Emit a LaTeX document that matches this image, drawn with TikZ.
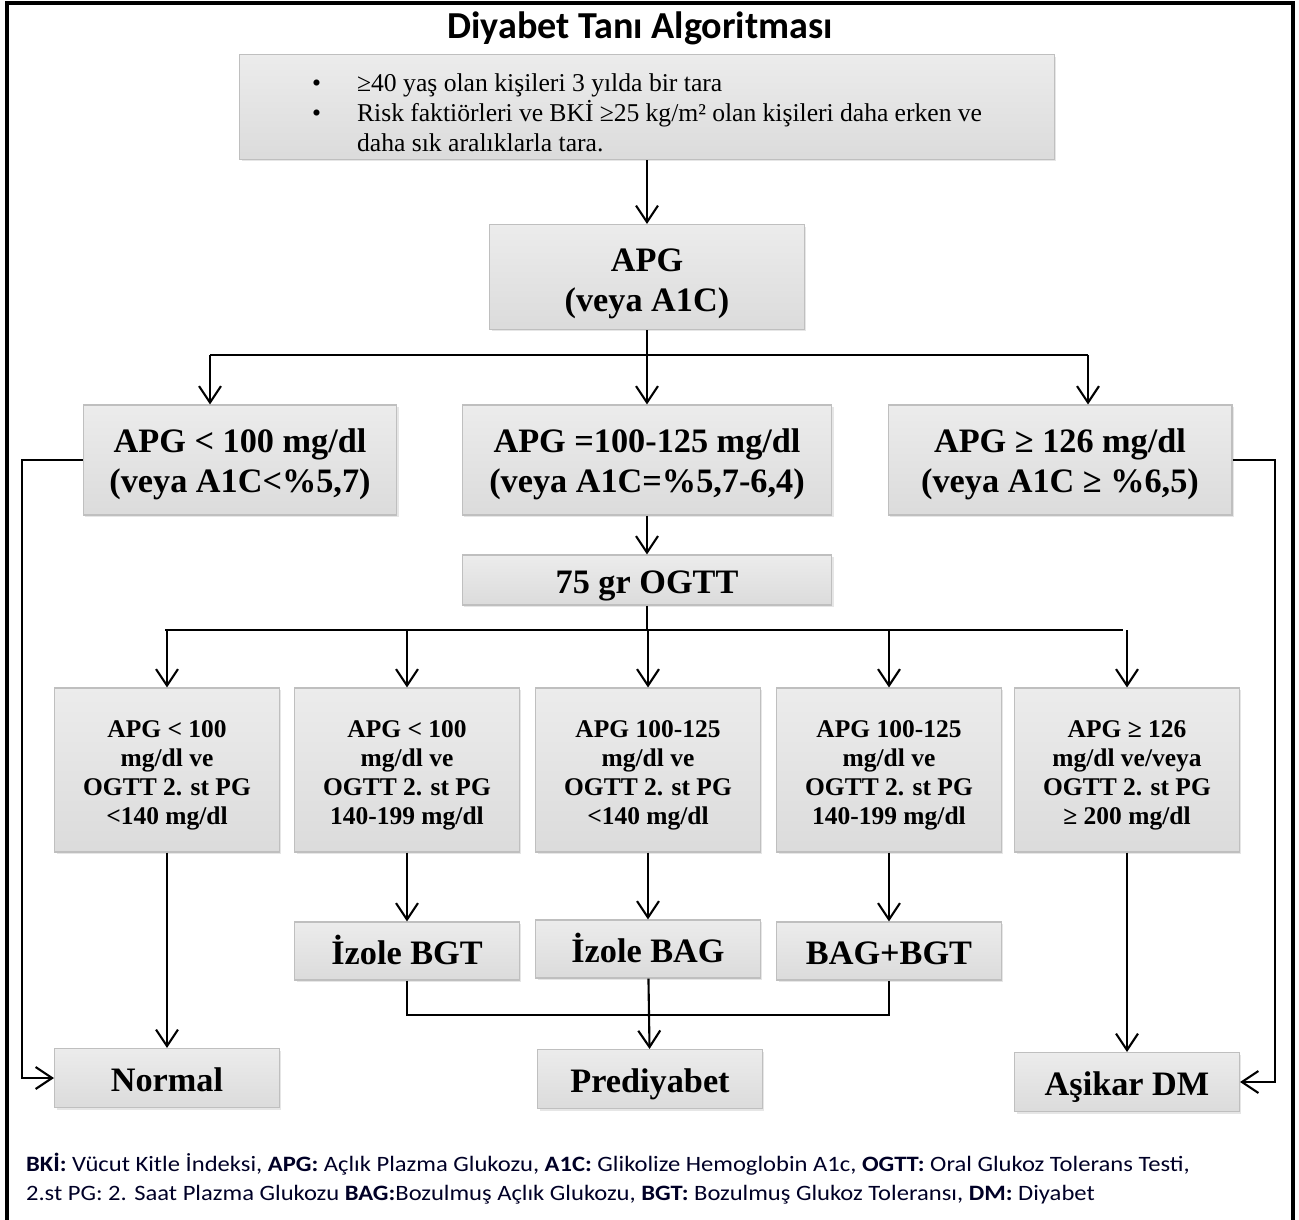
\documentclass[tikz,border=0pt]{standalone}
\usepackage{fontspec}
\setmainfont{Liberation Serif}
\newfontfamily\notefont{Carlito}
\newfontfamily\notewide[FakeStretch=1.12]{Carlito}
\usetikzlibrary{arrows.meta, calc, shadows}
\newcommand\ust[1]{\rule{0pt}{#1}}

\begin{document}
\begin{tikzpicture}[x=0.02cm, y=-0.02cm, >={Straight Barb[length=3.3mm,width=4.4mm]}, line width=1.2pt,
	kutu/.style={draw=gray!50, line width=0.6pt, top color=gray!15, bottom color=gray!28,
		inner sep=0pt, align=center, font=\fontsize{19.5}{22.7}\selectfont\bfseries,
		drop shadow={shadow xshift=0.4mm, shadow yshift=-0.4mm, opacity=0.2}},
	tek/.style={kutu, text height=15.2pt, text depth=0pt},
	kucuk/.style={kutu, font=\fontsize{14.5}{16.5}\selectfont\bfseries}]
		\useasboundingbox (0,0) rectangle (1299,1220);
		\coordinate (k1) at (210,355); %APG dallanma
		\coordinate (k3) at (1088,355);
		\coordinate (m1) at (165,630); %OGTT dallanma
		\coordinate (m5) at (1123,630);
		\coordinate (p) at (0,1015);
		\coordinate (l) at (22,0);
		\coordinate (r) at (1275,0);
		% Cerceve
		\draw[line width=1.8pt] (7,1230) -- (7,3) -- (1293,3) -- (1293,1230);
		\node[font=\notefont\bfseries\fontsize{21.7}{25}\selectfont] (baslik) at (640,28) {Diyabet Tanı Algoritması};
		\node[kutu, font=\fontsize{14.6}{17}\selectfont, minimum width=16.3cm, minimum height=2.1cm] (tara) at (647,107)
			{\begin{minipage}{13.4cm}
				\vspace*{0.24cm}
				\makebox[0.9cm][l]{\textbullet}≥40 yaş olan kişileri 3 yılda bir tara\\
				\makebox[0.9cm][l]{\textbullet}Risk faktiörleri ve BKİ ≥25 kg/m² olan kişileri daha erken ve\\
				\hspace*{0.9cm}daha sık aralıklarla tara.
			\end{minipage}};
		\node[kutu, minimum width=6.3cm, minimum height=2.1cm] (apg) at (647,277) {\ust{21pt}APG\\(veya A1C)};
		\node[kutu, minimum width=6.28cm, minimum height=2.2cm] (a1) at (240,460) {\ust{18.9pt}APG < 100 mg/dl\\(veya A1C<\%5,7)};
		\node[kutu, minimum width=7.4cm, minimum height=2.2cm] (a2) at (647,460) {\ust{18.9pt}APG =100-125 mg/dl\\(veya A1C=\%5,7-6,4)};
		\node[kutu, minimum width=6.88cm, minimum height=2.2cm] (a3) at (1060,460) {\ust{18.9pt}APG ≥ 126 mg/dl\\(veya A1C ≥ \%6,5)};
		\node[tek, minimum width=7.4cm, minimum height=1cm] (ogtt) at (647,580) {75 gr OGTT};
		% OGTT sonuclari
		\node[kucuk, minimum width=4.5cm, minimum height=3.28cm] (b1) at (167,770) {\ust{15.5pt}APG < 100\\mg/dl ve\\OGTT 2. st PG\\<140 mg/dl};
		\node[kucuk, minimum width=4.5cm, minimum height=3.28cm] (b2) at (407,770) {\ust{15.5pt}APG < 100\\mg/dl ve\\OGTT 2. st PG\\140-199 mg/dl};
		\node[kucuk, minimum width=4.5cm, minimum height=3.28cm] (b3) at (648,770) {\ust{15.5pt}APG 100-125\\mg/dl ve\\OGTT 2. st PG\\<140 mg/dl};
		\node[kucuk, minimum width=4.5cm, minimum height=3.28cm] (b4) at (889,770) {\ust{15.5pt}APG 100-125\\mg/dl ve\\OGTT 2. st PG\\140-199 mg/dl};
		\node[kucuk, minimum width=4.5cm, minimum height=3.28cm] (b5) at (1127,770) {\ust{15.5pt}APG ≥ 126\\mg/dl ve/veya\\OGTT 2. st PG\\≥ 200 mg/dl};
		\node[tek, minimum width=4.5cm, minimum height=1.16cm] (c2) at (407,951) {İzole BGT};
		\node[tek, minimum width=4.5cm, minimum height=1.16cm] (c3) at (648,949) {İzole BAG};
		\node[tek, minimum width=4.5cm, minimum height=1.16cm] (c4) at (889,951) {BAG+BGT};
		\node[tek, minimum width=4.5cm, minimum height=1.18cm] (nor) at (167,1078) {Normal};
		\node[tek, minimum width=4.5cm, minimum height=1.18cm] (pre) at (650,1079) {Prediyabet};
		\node[tek, minimum width=4.5cm, minimum height=1.18cm] (dm) at (1127,1082) {Aşikar DM};
		% Oklar
		\draw[->] (tara) -- (apg);
		\draw (apg) -- (apg|-k1);
		\draw (k1) -- (k3);
		\draw[->] (k1) -- (k1|-a1.north);
		\draw[->] (apg|-k1) -- (a2);
		\draw[->] (k3) -- (k3|-a3.north);
		\draw[->] (a2) -- (ogtt);
		\draw (ogtt) -- (ogtt|-m1);
		\draw (m1) -- (m5);
		\foreach \n in {1,...,5}
			\draw[->] (b\n|-m1) -- (b\n);
		\foreach \n in {2,3,4}
			\draw[->] (b\n) -- (c\n);
		\draw (c2) -- (c2|-p) -- (c4|-p) -- (c4);
		\draw[->] (c3) -- (pre);
		\draw[->] (b1) -- (nor);
		\draw[->] (b5) -- (dm);
		\draw[->] (a1.west) -- (a1.west-|l) |- (nor.west);
		\draw[->] (a3.east) -- (a3.east-|r) |- (dm.east);
		\node[anchor=north west, inner sep=0pt, align=left, text=black!85!blue,
			font=\notewide\fontsize{12.5}{16.4}\selectfont] (dipnot) at (25,1152)
			{\textbf{BKİ:} Vücut Kitle İndeksi, \textbf{APG:} Açlık Plazma Glukozu, \textbf{A1C:} Glikolize Hemoglobin A1c, \textbf{OGTT:} Oral Glukoz Tolerans Testi,\\
			2.st PG: 2. Saat Plazma Glukozu \textbf{BAG:}Bozulmuş Açlık Glukozu, \textbf{BGT:} Bozulmuş Glukoz Toleransı, \textbf{DM:} Diyabet};
\end{tikzpicture}
\end{document}
